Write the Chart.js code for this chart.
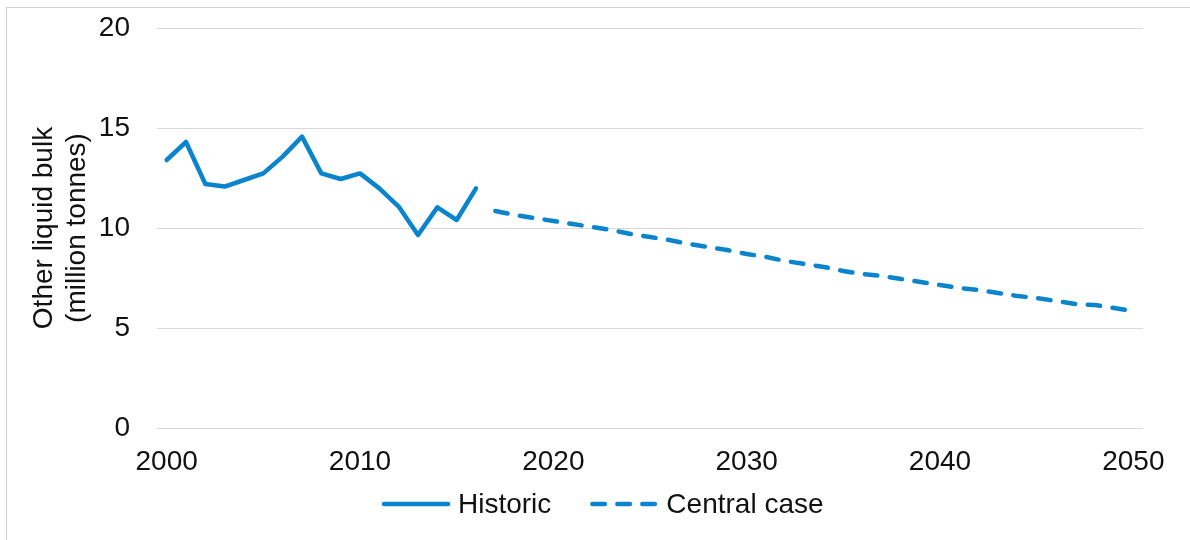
<!DOCTYPE html>
<html>
<head>
<meta charset="utf-8">
<script src="https://cdn.jsdelivr.net/npm/chart.js@4.4.1/dist/chart.umd.min.js"></script>
<style>
  html, body { margin: 0; padding: 0; background: #fff; overflow: hidden; }
  #wrap { position: absolute; left: 0; top: 0; width: 1190px; height: 540px; }
  #frame { position: absolute; left: 6px; top: 7px; width: 1200px; height: 560px; border: 1px solid #cfcfcf; box-sizing: border-box; pointer-events: none; }
</style>
</head>
<body>
<div id="wrap"><canvas id="c" width="1190" height="540"></canvas></div>
<div id="frame"></div>
<script>
const years = [];
for (let y = 2000; y <= 2050; y++) years.push(y);

const historicYears = [2000,2001,2002,2003,2004,2005,2006,2007,2008,2009,2010,2011,2012,2013,2014,2015,2016];
const historicValues = [13.4,14.3,12.2,12.07,12.4,12.73,13.57,14.57,12.73,12.45,12.73,11.98,11.07,9.65,11.03,10.4,11.98];

const centralYears = [2017,2018,2019,2020,2021,2022,2023,2024,2025,2026,2027,2028,2029,2030,2031,2032,2033,2034,2035,2036,2037,2038,2039,2040,2041,2042,2043,2044,2045,2046,2047,2048,2049,2050];
const centralValues = [10.85,10.65,10.5,10.35,10.2,10.05,9.9,9.7,9.55,9.4,9.2,9.05,8.9,8.7,8.55,8.35,8.2,8.05,7.85,7.7,7.6,7.45,7.3,7.15,7.0,6.9,6.75,6.6,6.5,6.35,6.2,6.15,6.0,5.85];

const yTicks = [0, 5, 10, 15, 20];
const xTickLabels = [2000, 2010, 2020, 2030, 2040, 2050];
const seriesNames = ['Historic', 'Central case'];
const yTitle = ['Other liquid bulk', '(million tonnes)'];

function align(srcYears, srcVals) {
  return years.map(y => { const i = srcYears.indexOf(y); return i >= 0 ? srcVals[i] : null; });
}

const blue = '#0A84CC';
const FONT = '"Liberation Sans", Arial, sans-serif';
const DASH = [12.5, 12.5];

const customLegend = {
  id: 'customLegend',
  afterDraw(chart) {
    const ctx = chart.ctx;
    ctx.save();
    ctx.font = '28px ' + FONT;
    ctx.textBaseline = 'middle';
    ctx.fillStyle = '#111';
    const y = 504;
    const sample = 68, gapText = 8, gapItem = 39;
    let x = 382;
    chart.data.datasets.forEach((ds, i) => {
      ctx.beginPath();
      ctx.strokeStyle = ds.borderColor;
      ctx.lineWidth = 4.5;
      ctx.lineCap = 'round';
      ctx.setLineDash(ds.borderDash || []);
      ctx.moveTo(x + 2, y);
      ctx.lineTo(x + sample - 2, y);
      ctx.stroke();
      ctx.setLineDash([]);
      x += sample + gapText;
      ctx.fillText(ds.label, x, y + 1);
      x += ctx.measureText(ds.label).width + gapItem;
    });
    ctx.restore();
  }
};

new Chart(document.getElementById('c'), {
  type: 'line',
  data: {
    labels: years.map(String),
    datasets: [
      { label: seriesNames[0], data: align(historicYears, historicValues), borderColor: blue, backgroundColor: blue,
        borderWidth: 4.5, pointRadius: 0, tension: 0, spanGaps: false, borderJoinStyle: 'round', borderCapStyle: 'round' },
      { label: seriesNames[1], data: align(centralYears, centralValues), borderColor: blue, backgroundColor: blue,
        borderWidth: 4.5, pointRadius: 0, tension: 0, borderDash: DASH, borderCapStyle: 'round', spanGaps: false }
    ]
  },
  plugins: [customLegend],
  options: {
    responsive: false,
    animation: false,
    devicePixelRatio: 1,
    layout: { padding: { top: 28, right: 47, bottom: 0, left: 0 } },
    plugins: {
      tooltip: { enabled: false },
      legend: { display: false }
    },
    scales: {
      x: {
        type: 'category',
        offset: true,
        grid: { display: false, drawTicks: false },
        border: { display: false },
        afterFit(scale) { scale.height = 112; scale.paddingLeft = 0; scale.paddingRight = 0; },
        ticks: {
          autoSkip: false,
          maxRotation: 0,
          padding: 17,
          color: '#111',
          font: { family: FONT, size: 28 },
          callback(val, idx) {
            const y = years[idx];
            return xTickLabels.includes(y) ? String(y) : null;
          }
        }
      },
      y: {
        min: 0, max: 20,
        afterBuildTicks(scale) { scale.ticks = yTicks.map(v => ({ value: v })); },
        afterFit(scale) { scale.width = 157; scale.paddingTop = 0; scale.paddingBottom = 0; },
        grid: { color: '#d9d9d9', lineWidth: 1, drawTicks: false },
        border: { display: false },
        ticks: { padding: 27, color: '#111', font: { family: FONT, size: 28 } },
        title: { display: true, text: yTitle, color: '#111', font: { family: FONT, size: 28, lineHeight: 1.2 }, padding: { top: 27, bottom: 0 } }
      }
    }
  }
});
</script>
</body>
</html>
